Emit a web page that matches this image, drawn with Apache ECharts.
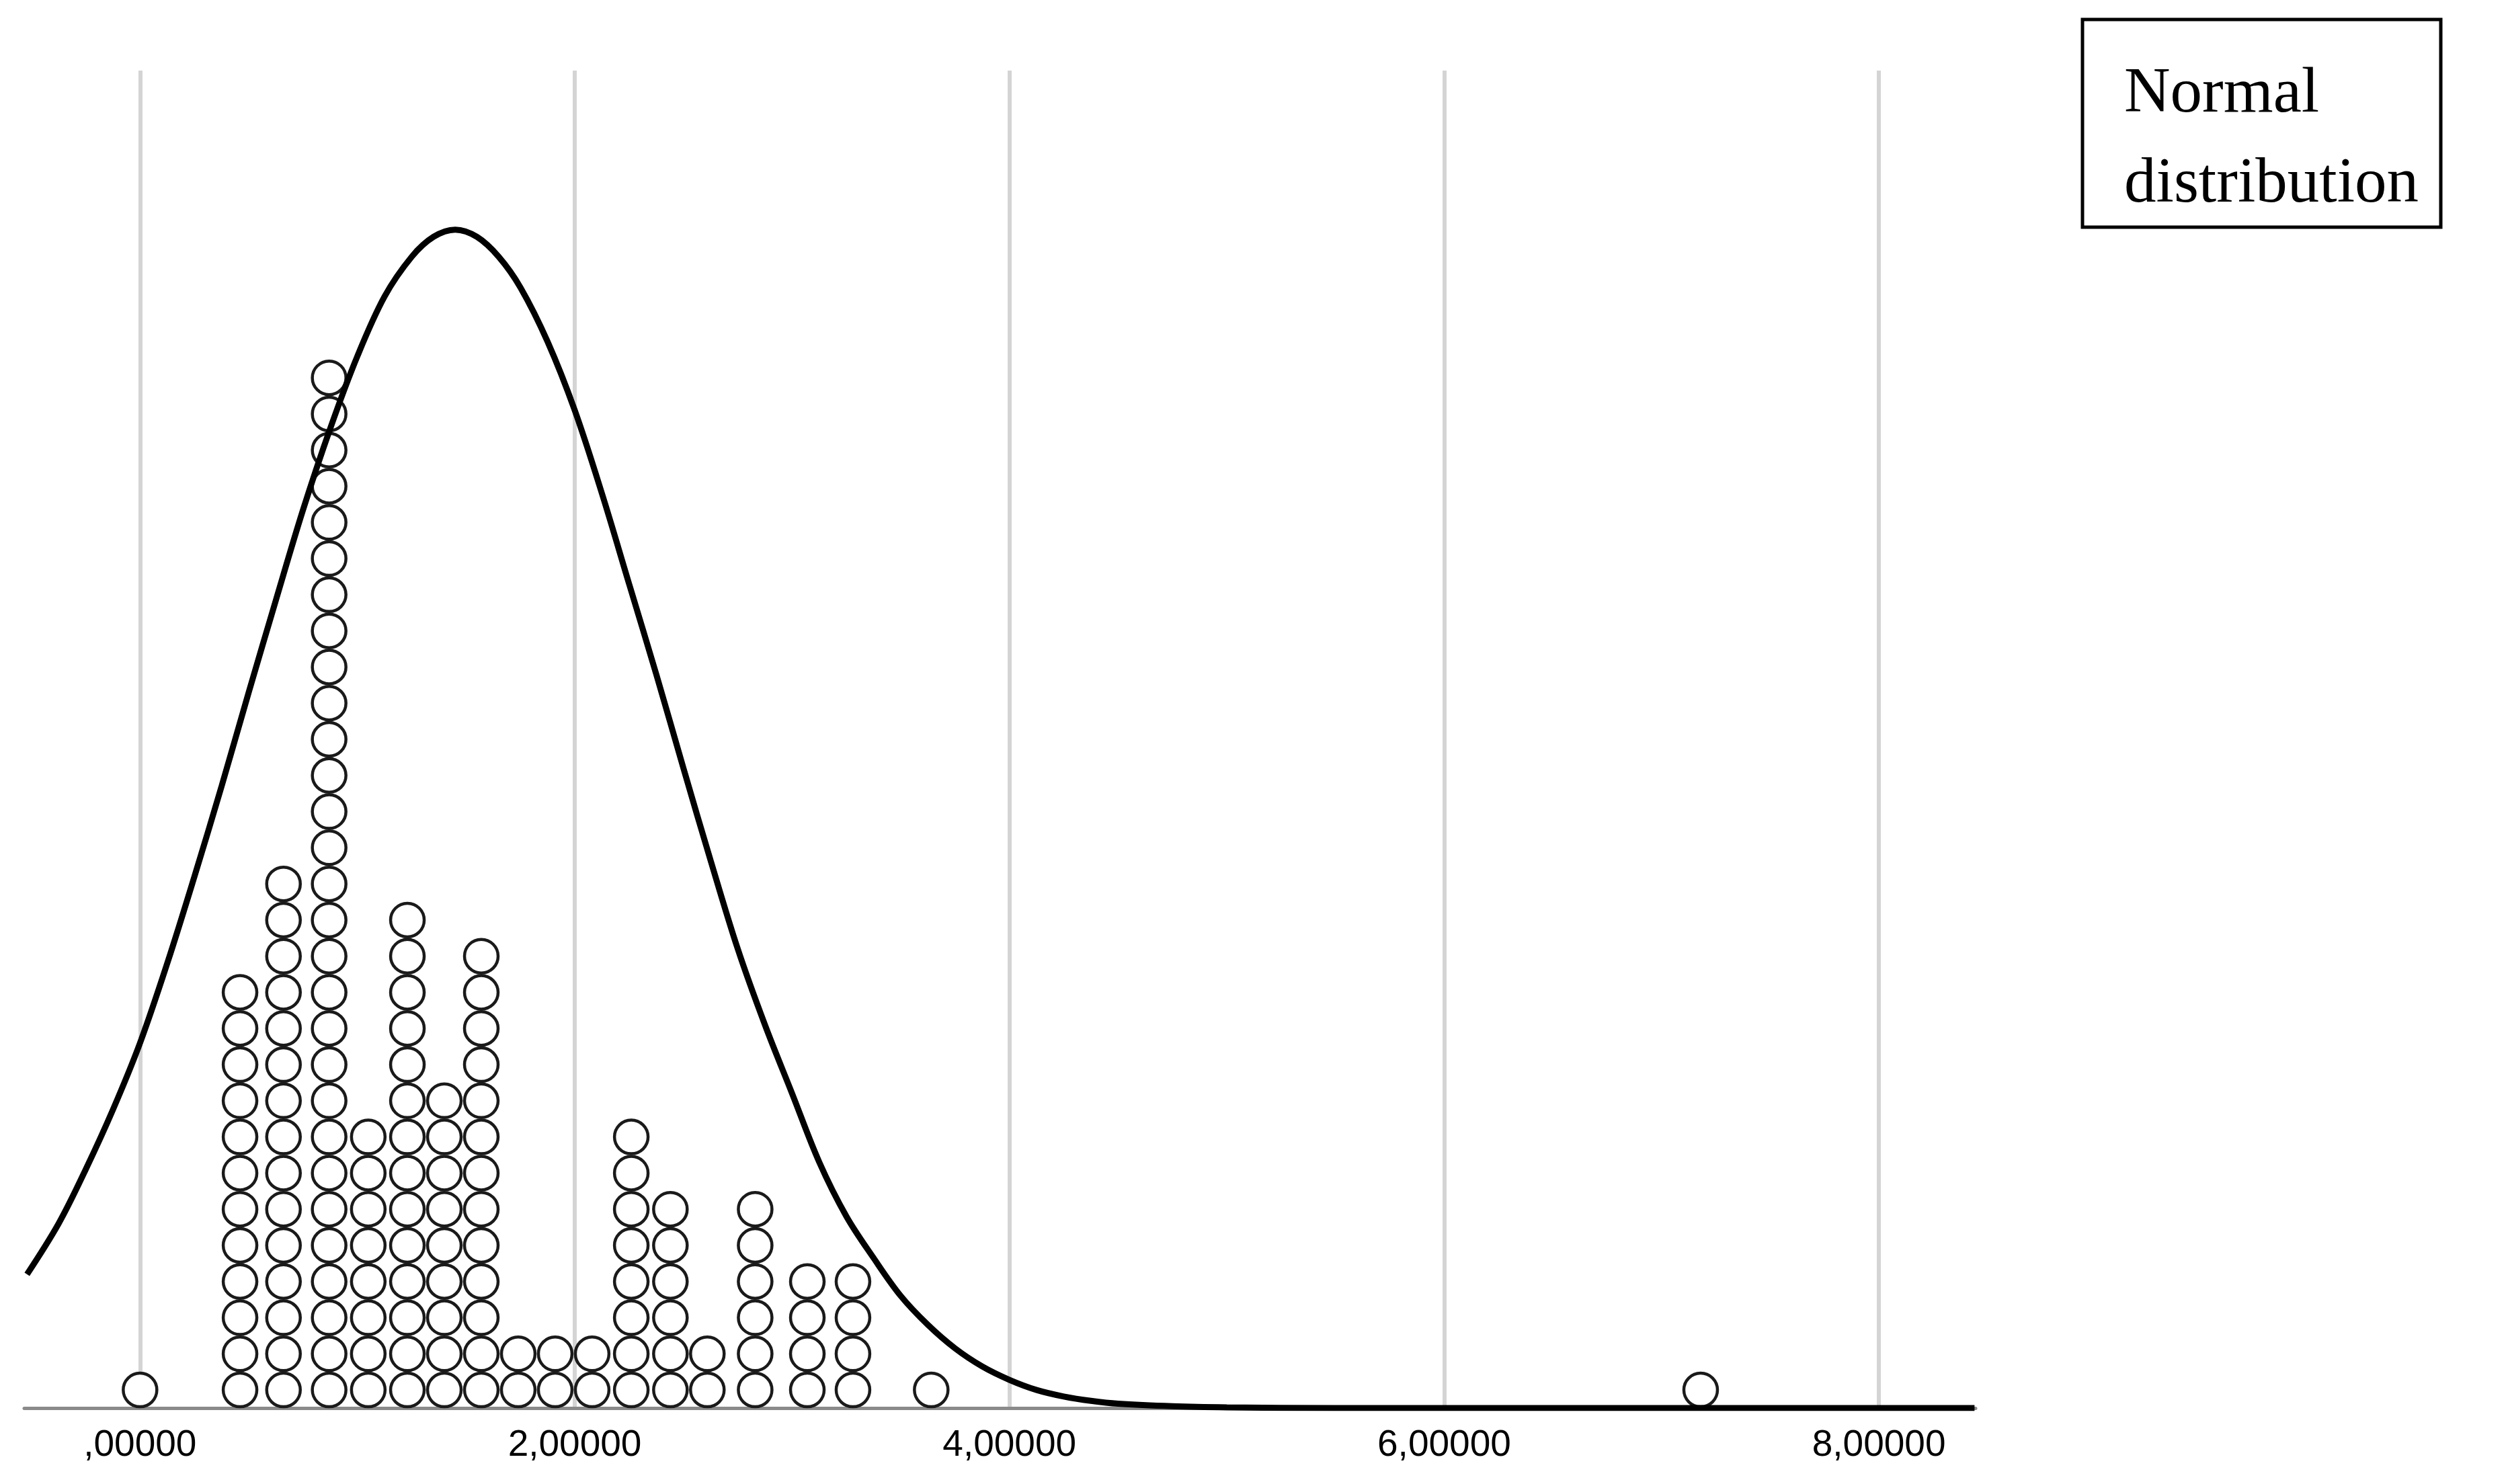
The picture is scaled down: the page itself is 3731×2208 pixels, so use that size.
<!DOCTYPE html>
<html>
<head>
<meta charset="utf-8">
<title>Dot plot with normal distribution</title>
<script src="https://cdn.jsdelivr.net/npm/echarts@6/dist/echarts.min.js"></script>
<style>
  html, body { margin: 0; padding: 0; background: #fff; }
  #chart { width: 3731px; height: 2208px; }
</style>
</head>
<body>
<div id="chart"></div>
<script>
  // dot columns: x value of each stack and how many dots it holds
  const colX = [0.00, 0.46, 0.66, 0.87, 1.05, 1.23, 1.40, 1.57, 1.74, 1.91, 2.08, 2.26, 2.44, 2.61, 2.83, 3.07, 3.28, 3.64, 7.18]
  const colCount = [1, 12, 15, 29, 8, 14, 9, 13, 2, 2, 2, 8, 6, 2, 6, 4, 4, 1, 1]

  // fitted normal curve (y in dot units)
  const curveX = [-0.52, -0.375, -0.25, -0.125, 0, 0.125, 0.25, 0.375, 0.5, 0.625, 0.75, 0.875,
    1.0, 1.125, 1.25, 1.35, 1.45, 1.55, 1.65, 1.75, 1.875, 2.0, 2.125, 2.25, 2.375, 2.5, 2.625,
    2.75, 2.875, 3.0, 3.125, 3.25, 3.375, 3.5, 3.625, 3.75, 3.875, 4.0, 4.125, 4.25, 4.375,
    4.5, 4.75, 5.0, 5.5, 6.0, 7.0, 8.44]
  const curveY = [3.7, 5.1, 6.6, 8.25, 10.1, 12.3, 14.7, 17.2, 19.8, 22.35, 24.85, 27.1,
    29.1, 30.75, 31.85, 32.4, 32.6, 32.4, 31.85, 31.0, 29.5, 27.6, 25.3, 22.8, 20.3, 17.7, 15.15,
    12.7, 10.6, 8.7, 6.8, 5.3, 4.15, 3.1, 2.3, 1.65, 1.15, 0.78, 0.5, 0.32, 0.2,
    0.12, 0.05, 0.02, 0, 0, 0, 0]

  const tickValues = [0, 2, 4, 6, 8]
  const legendText = 'Normal\ndistribution'

  // stack each column: dot k sits at height k - 0.5
  let dots = []
  colX.forEach((x, i) => {
    for (let k = 1; k <= colCount[i]; k++) {
      dots.push([x, k - 0.5])
    }
  })
  let curve = curveX.map((x, i) => [x, curveY[i]])

  const chart = echarts.init(document.getElementById('chart'))
  chart.setOption({
    animation: false,
    backgroundColor: '#fff',
    grid: {
      left: 36,
      right: 792,
      top: 105,
      bottom: 113
    },
    xAxis: {
      type: 'value',
      min: -0.533,
      max: 8.445,
      axisLine: {
        show: true,
        onZero: false,
        lineStyle: {color: '#8a8a8a', width: 5}
      },
      axisTick: {show: false, customValues: tickValues},
      axisLabel: {
        customValues: tickValues,
        margin: 28,
        fontFamily: 'Liberation Sans',
        fontSize: 55,
        color: '#000',
        formatter: val => val.toFixed(5).replace('.', ',').replace(/^0,/, ',')
      },
      splitLine: {
        show: true,
        lineStyle: {color: '#d4d4d4', width: 6}
      }
    },
    yAxis: {
      type: 'value',
      min: 0,
      max: 37,
      show: false,
      splitLine: {show: false}
    },
    graphic: [{
      type: 'rect',
      shape: {x: 3098, y: 29, width: 533, height: 309},
      style: {fill: '#fff', stroke: '#000', lineWidth: 5}
    }, {
      type: 'text',
      x: 3160,
      y: 74,
      style: {
        text: legendText,
        font: '95px "Liberation Serif"',
        lineHeight: 134,
        fill: '#000'
      }
    }],
    series: [{
      name: 'dots',
      type: 'scatter',
      data: dots,
      symbol: 'circle',
      symbolSize: 50,
      itemStyle: {color: '#fff', borderColor: '#1a1a1a', borderWidth: 4.5, opacity: 1},
      z: 2
    }, {
      name: 'Normal distribution',
      type: 'line',
      data: curve,
      showSymbol: false,
      smooth: 0.35,
      lineStyle: {color: '#000', width: 9},
      z: 3
    }]
  })
</script>
</body>
</html>
